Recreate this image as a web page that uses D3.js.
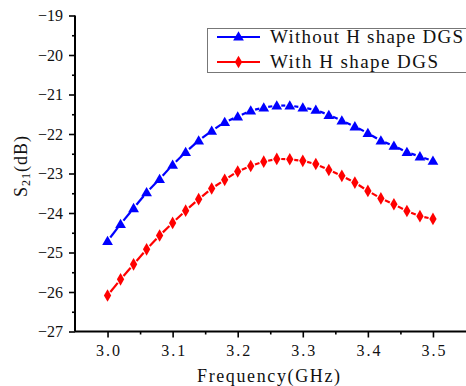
<!DOCTYPE html>
<html><head><meta charset="utf-8">
<script src="https://cdn.jsdelivr.net/npm/d3@7"></script>
<style>html,body{margin:0;padding:0;background:#fff;}svg{display:block;}</style>
</head><body>
<script>
const freq = [3.00,3.02,3.04,3.06,3.08,3.10,3.12,3.14,3.16,3.18,3.20,3.22,3.24,3.26,3.28,3.30,3.32,3.34,3.36,3.38,3.40,3.42,3.44,3.46,3.48,3.50];
const withoutDGS = [-24.71,-24.28,-23.88,-23.48,-23.14,-22.78,-22.46,-22.17,-21.92,-21.70,-21.56,-21.41,-21.33,-21.28,-21.28,-21.33,-21.39,-21.52,-21.66,-21.81,-21.98,-22.17,-22.30,-22.46,-22.57,-22.68];
const withDGS = [-26.09,-25.68,-25.30,-24.92,-24.57,-24.25,-23.94,-23.65,-23.38,-23.16,-22.95,-22.81,-22.70,-22.63,-22.64,-22.68,-22.76,-22.91,-23.06,-23.23,-23.44,-23.63,-23.78,-23.95,-24.08,-24.15];
const xTicks = [3.0,3.1,3.2,3.3,3.4,3.5];
const yTicks = [-27,-26,-25,-24,-23,-22,-21,-20,-19];
const seriesNames = ["Without H shape DGS","With H shape DGS"];
const seriesColors = ["#0000ff","#ff0000"];

const W=466,H=386;
const font = "'Liberation Serif', 'DejaVu Serif', serif";
const svg = d3.select("body").append("svg").attr("width",W).attr("height",H);
const x = d3.scaleLinear().domain([2.95,3.55]).range([75,465.5]);
const y = d3.scaleLinear().domain([-27,-19]).range([331.5,15.5]);

// axes
const xAxis = d3.axisBottom(x).tickValues(xTicks).tickSize(6).tickPadding(7).tickFormat(d3.format(".1f"));
const gx = svg.append("g").attr("transform",`translate(0,${y(-27)})`).call(xAxis);
const xMinor = d3.axisBottom(x).tickValues([3.05,3.15,3.25,3.35,3.45]).tickSize(3).tickFormat("");
const gxm = svg.append("g").attr("transform",`translate(0,${y(-27)})`).call(xMinor);
gxm.select(".domain").remove();
const yAxis = d3.axisLeft(y).tickValues(yTicks).tickSize(6).tickPadding(6).tickFormat(d=>"\u2212"+Math.abs(d));
const gy = svg.append("g").attr("transform",`translate(${x(2.95)},0)`).call(yAxis);
const yMinor = d3.axisLeft(y).tickValues(d3.range(-26.5,-19,1)).tickSize(3).tickFormat("");
const gym = svg.append("g").attr("transform",`translate(${x(2.95)},0)`).call(yMinor);
gym.select(".domain").remove();
[gx,gy,gxm,gym].forEach(g=>{
  g.selectAll("path.domain").attr("stroke","#000").attr("stroke-width",2);
  g.selectAll(".tick line").attr("stroke","#000").attr("stroke-width",1.6);
  g.selectAll("text").attr("font-family",font).attr("font-size",16).attr("fill","#111");
});
gx.selectAll(".tick text").attr("letter-spacing",2).attr("dx",1);
gx.select(".domain").attr("d",`M${x(2.95)},0H${W+2}`);
gy.select(".domain").attr("d",`M0,${y(-19)}V${y(-27)}`);

// axis titles
svg.append("text").attr("x",197).attr("y",382)
  .attr("textLength",143).attr("lengthAdjust","spacing")
  .attr("font-family",font).attr("font-size",18).attr("fill","#111").text("Frequency(GHz)");
const yt = svg.append("text").attr("transform","translate(27,166) rotate(-90)").attr("text-anchor","middle")
  .attr("font-family",font).attr("font-size",18).attr("fill","#111").attr("letter-spacing",1);
yt.append("tspan").text("S");
yt.append("tspan").attr("font-size",12).attr("dy",3).text("21");
yt.append("tspan").attr("dy",-3).text("(dB)");

const tri = d3.symbol().type(d3.symbolTriangle).size(50);
const dia = d3.symbol().type(d3.symbolDiamond).size(46);
const shapes=[tri,dia];
const series=[withoutDGS,withDGS];
const gap=4.5;
series.forEach((vals,si)=>{
  const g=svg.append("g");
  const pts=freq.map((f,i)=>[x(f),y(vals[i])]);
  for(let i=0;i<pts.length-1;i++){
    const [x1,y1]=pts[i],[x2,y2]=pts[i+1];
    const dx=x2-x1,dy=y2-y1,L=Math.hypot(dx,dy);
    const ux=dx/L,uy=dy/L;
    g.append("line").attr("x1",x1+ux*gap).attr("y1",y1+uy*gap).attr("x2",x2-ux*gap).attr("y2",y2-uy*gap)
      .attr("stroke",seriesColors[si]).attr("stroke-width",2.2);
  }
  g.selectAll("path.m").data(pts).join("path").attr("class","m")
    .attr("transform",d=>`translate(${d[0]},${d[1]+(si===0?0.8:0)})`)
    .attr("d",shapes[si]()).attr("fill",seriesColors[si]);
});

// legend
const legendLen=[193,168];
const lg=svg.append("g");
lg.append("rect").attr("x",207.5).attr("y",28.5).attr("width",270).attr("height",44)
  .attr("fill","#fff").attr("stroke","#777").attr("stroke-width",1);
seriesNames.forEach((n,i)=>{
  const yy=37+i*25;
  lg.append("line").attr("x1",217).attr("x2",260).attr("y1",yy).attr("y2",yy).attr("stroke",seriesColors[i]).attr("stroke-width",2);
  lg.append("path").attr("transform",`translate(238.5,${yy+(i===0?0.5:0)})`).attr("d",shapes[i]()).attr("fill",seriesColors[i]);
  lg.append("text").attr("x",270).attr("y",yy+6)
    .attr("textLength",legendLen[i]).attr("lengthAdjust","spacing")
    .attr("font-family",font).attr("font-size",19).attr("fill","#111").text(n);
});
</script>
</body></html>
